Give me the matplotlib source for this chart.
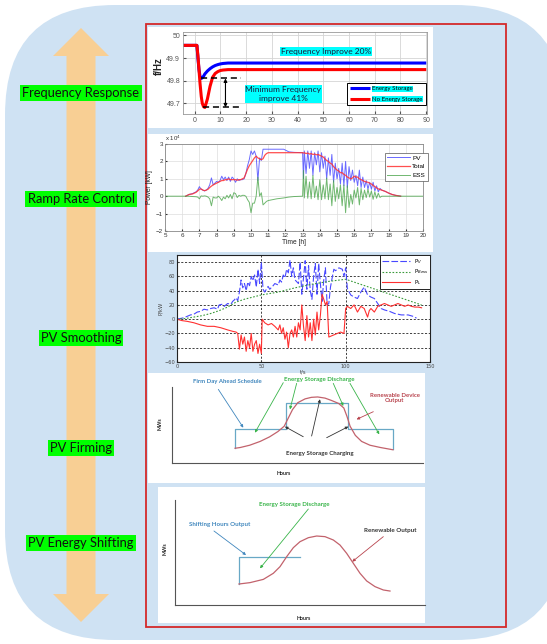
import numpy as np
import matplotlib
matplotlib.use('Agg')
import matplotlib.pyplot as plt
from matplotlib.patches import FancyBboxPatch, Rectangle, Polygon

# ---------------- data ----------------
# Panel 1: frequency response
t_freq = [-5, 0.9, 1.3, 1.7, 2.1, 2.6, 3.0, 3.5, 4.0, 5.0, 6.0, 7.0, 8.0, 9.0, 10, 11, 12, 13, 15, 20, 40, 60, 90]
f_storage = [49.956, 49.956, 49.90, 49.85, 49.82, 49.810, 49.813, 49.82, 49.83, 49.843, 49.853, 49.861, 49.867,
             49.871, 49.874, 49.876, 49.877, 49.878, 49.878, 49.878, 49.878, 49.878, 49.878]
f_no_storage = [49.956, 49.956, 49.91, 49.85, 49.79, 49.73, 49.70, 49.685, 49.682, 49.72, 49.775, 49.815, 49.832,
                49.840, 49.845, 49.847, 49.848, 49.849, 49.849, 49.849, 49.849, 49.849, 49.849]
freq_series = ['Energy Storage', 'No Energy Storage']
freq_yticks = [49.7, 49.8, 49.9, 50.0]
freq_yticklabels = ['49.7', '49.8', '49.9', '50']

# Panel 2: ramp rate control (values in 10^4 kW)
t_am = [6.2, 6.4, 6.6, 6.8, 6.9, 7.0, 7.1, 7.2, 7.3, 7.4, 7.5, 7.6, 7.7, 7.8, 7.9, 8.0, 8.1, 8.2, 8.3, 8.4,
        8.5, 8.6, 8.7, 8.8, 8.9, 9.0, 9.1, 9.2, 9.3, 9.4, 9.5]
pv_am = [0.00, 0.10, 0.15, 0.25, 0.35, 0.55, 0.40, 0.35, 0.30, 0.35, 0.45, 0.65, 1.05, 0.65, 0.75, 0.85, 0.80,
         0.90, 1.15, 0.95, 1.10, 0.90, 1.10, 0.85, 1.10, 1.00, 0.80, 1.00, 0.90, 0.95, 0.95]
tot_am = [0.00, 0.10, 0.13, 0.22, 0.30, 0.40, 0.42, 0.35, 0.32, 0.35, 0.40, 0.50, 0.58, 0.65, 0.70, 0.75, 0.80,
          0.85, 0.90, 0.90, 0.95, 0.95, 1.00, 0.95, 0.95, 0.95, 0.95, 0.92, 0.95, 0.95, 1.00]
ess_am = [0.00, 0.00, -0.02, -0.03, -0.05, -0.15, 0.02, 0.00, 0.02, 0.00, -0.05, -0.15, -0.55, -0.05, -0.10,
          -0.10, 0.00, -0.10, -0.25, -0.05, -0.15, 0.05, -0.10, 0.10, -0.15, 0.20, 0.15, -0.08, 0.05, 0.00, 0.05]

t_md = [9.6, 9.7, 9.8, 9.9, 10.0, 10.1, 10.2, 10.3, 10.4, 10.5, 10.6, 10.7, 10.8, 10.9, 11.0, 11.5, 11.9, 12.2, 12.5, 13.0]
pv_md = [1.00, 1.30, 1.75, 2.10, 2.60, 2.40, 2.60, 2.30, 0.90, 2.20, 2.05, 2.70, 2.70, 2.70, 2.70, 2.70, 2.70,
         2.55, 2.52, 2.50]
tot_md = [1.05, 1.30, 1.55, 1.75, 1.90, 2.05, 2.20, 2.30, 2.20, 2.15, 2.10, 2.15, 2.35, 2.45, 2.50, 2.50, 2.50,
          2.50, 2.50, 2.50]
ess_md = [0.05, 0.00, -0.20, -0.35, -0.95, -0.40, -0.40, 0.00, 1.10, 0.00, 0.20, -0.50, -0.40, -0.30, -0.25,
          -0.15, -0.10, -0.05, -0.02, 0.00]

t_pm = [13.05, 13.1, 13.2, 13.3, 13.4, 13.5, 13.6, 13.7, 13.8, 13.9,
        14.0, 14.1, 14.2, 14.3, 14.4, 14.5, 14.6, 14.7, 14.8, 14.9,
        15.0, 15.1, 15.2, 15.3, 15.4, 15.5, 15.6, 15.7, 15.8, 15.9,
        16.0, 16.1, 16.2, 16.3, 16.4, 16.5, 16.6, 16.7, 16.8, 16.9,
        17.0, 17.1, 17.2, 17.3, 17.4, 17.5, 17.6]
pv_pm = [1.00, 2.60, 1.30, 2.60, 1.60, 2.60, 1.20, 2.50, 1.80, 2.60,
         1.40, 2.50, 1.60, 2.30, 1.00, 2.20, 1.20, 2.40, 0.80, 1.90,
         1.00, 1.60, 0.70, 1.90, 0.60, 2.00, 0.50, 1.70, 0.90, 1.50,
         0.80, 1.20, 0.60, 1.50, 0.50, 1.10, 0.50, 0.90, 0.40, 0.80,
         0.40, 0.80, 0.30, 0.60, 0.25, 0.45, 0.35]
tot_pm = [2.48, 2.50, 2.45, 2.48, 2.42, 2.45, 2.40, 2.42, 2.38, 2.40,
          2.35, 2.30, 2.25, 2.15, 2.05, 2.00, 1.90, 1.85, 1.70, 1.60,
          1.50, 1.45, 1.35, 1.35, 1.25, 1.20, 1.10, 1.05, 1.00, 1.05,
          1.15, 1.10, 1.10, 1.00, 0.95, 0.90, 0.85, 0.82, 0.80, 0.75,
          0.70, 0.62, 0.55, 0.48, 0.42, 0.38, 0.35]
ess_pm = [1.48, -0.10, 1.15, -0.12, 0.82, -0.15, 1.20, -0.08, 0.58, -0.20,
          0.95, -0.20, 0.65, -0.15, 1.05, -0.20, 0.70, -0.55, 0.90, -0.30,
          0.50, -0.15, 0.65, -0.55, 0.65, -0.95, 0.60, -0.65, 0.10, -0.45,
          0.35, -0.10, 0.50, -0.50, 0.45, -0.20, 0.35, -0.08, 0.40, -0.05,
          0.30, -0.18, 0.25, -0.12, 0.17, -0.07, 0.00]

t_ev = [17.8, 18.0, 18.2, 18.4, 18.7]
pv_ev = [0.28, 0.18, 0.10, 0.05, 0.00]
tot_ev = [0.28, 0.18, 0.10, 0.05, 0.00]
ess_ev = [0.00, 0.00, 0.00, 0.00, 0.00]

t_day_start, t_day_end = 5.0, 20.0
ramp_series = ['PV', 'Total', 'ESS']

# Panel 3: PV smoothing
pv3_t = [0, 2, 4, 6, 8, 10, 12, 14, 16, 18,
         20, 22, 24, 25, 27, 28, 30, 32, 33, 34,
         35, 36, 37, 38, 39, 40, 41, 42, 43, 44,
         45, 46, 47, 48, 49, 50, 51, 52, 54, 55,
         57, 58, 60, 61, 62, 63, 64, 65, 66, 67,
         68, 69, 70, 72, 73, 74, 75, 76, 77, 78,
         79, 80, 81, 82, 83, 84, 85, 86, 87, 88,
         89, 90, 91, 92, 93, 94, 96, 98, 99, 100,
         101, 103, 105, 107, 109, 111, 113, 115, 117, 119,
         121, 123, 126, 129, 133, 137, 140, 142]
pv3_v = [0, 1, 2, 4, 6, 7, 10, 11, 14, 13,
         15, 16, 14, 20, 21, 18, 22, 21, 25, 27,
         30, 26, 38, 55, 44, 50, 40, 52, 47, 60,
         54, 62, 45, 70, 50, 80, 42, 38, 46, 42,
         47, 50, 48, 55, 52, 62, 58, 70, 65, 83,
         60, 72, 55, 50, 80, 35, 58, 82, 42, 75,
         40, 28, 60, 78, 35, 78, 50, 25, 55, 72,
         20, 22, 45, 58, 70, 68, 72, 70, 60, 72,
         43, 34, 31, 29, 38, 45, 34, 31, 29, 22,
         15, 13, 11, 8, 6, 6, 4, 1.5]
grid3_t = [0, 5, 10, 15, 20, 25, 30, 35, 40, 45, 50, 60, 70, 80, 90, 100, 110, 120, 130, 140, 145]
grid3_v = [0, 1, 3, 5, 8, 12, 17, 24, 28, 31, 34, 38, 44, 49, 53, 56, 48, 40, 32, 24, 20]
pl3_t = [0, 3, 6, 10, 14, 18, 22, 26, 30, 33,
         35, 36, 37, 38, 39, 40, 41, 42, 43, 44,
         45, 46, 47, 48, 49, 50, 50.5, 52, 54, 56,
         58, 60, 61, 62, 63, 64, 65, 66, 67, 68,
         69, 70, 71, 72, 73, 74, 75, 76, 77, 78,
         79, 80, 81, 82, 83, 84, 85, 86, 87, 88,
         89, 90, 91, 93, 95, 97, 99, 100, 101, 103,
         105, 107, 109, 111, 113, 114, 115, 117, 119, 121,
         123, 125, 127, 129, 131, 133, 135, 137, 139, 141,
         143, 145]
pl3_v = [0, -2, -3, -5, -8, -10, -10, -12, -15, -17,
         -18, -20, -42, -22, -35, -25, -45, -30, -40, -20,
         -45, -35, -30, -48, -35, -48, 0, -5, -8, -6,
         -10, -15, -8, -20, -12, -28, -18, -40, -20, -15,
         -25, -10, -25, -5, -15, 20, -10, -30, 5, -25,
         -5, -30, 0, -22, 10, -15, 5, 35, 28, 20,
         25, -25, -24, -22, -20, -18, -20, 15, 18, 15,
         20, 10, 18, 15, 3, 12, 15, 10, 18, 20,
         22, 20, 18, 20, 22, 20, 18, 20, 18, 17,
         17, 16]
smooth_labels = [r'P$_{V}$', r'P$_{Bess}$', r'P$_{L}$']

# Panel 4: PV firming schematic (hours, MW)
firm_sched_h = [6.0, 6.0, 10.9, 10.9, 16.8, 16.8, 21.1, 21.1]
firm_sched_mw = [1.9, 4.4, 4.4, 7.9, 7.9, 4.4, 4.4, 1.8]
firm_ren_h = [6.0, 6.5, 7.4, 8.4, 9.3, 10.1, 10.7, 11.1, 11.5, 12.0, 12.7, 13.3, 13.9, 14.6, 15.2, 15.9,
              16.4, 16.7, 17.0, 17.5, 18.1, 18.9, 19.9, 21.1]
firm_ren_mw = [1.9, 2.0, 2.3, 2.8, 3.4, 4.1, 4.8, 5.9, 7.0, 7.9, 8.4, 8.6, 8.65, 8.5, 8.2, 7.8,
               7.2, 6.1, 4.8, 3.6, 2.8, 2.3, 2.0, 1.7]
firm_blue_arrows = [((4.40, 9.65), (6.79, 4.61))]
firm_green_arrows = [((10.61, 10.53), (7.90, 3.95)), ((11.89, 10.44), (11.25, 7.02)),
                     ((15.39, 10.44), (16.35, 7.46)), ((16.99, 10.44), (19.79, 3.73))]
firm_red_arrows = [((19.22, 6.71), (17.62, 5.70))]
firm_black_arrows = [((12.52, 3.42), (10.77, 4.75)), ((13.32, 3.51), (14.12, 8.35)),
                     ((14.76, 3.29), (16.83, 4.75))]

# Panel 5: PV energy shifting schematic (hours, MW)
shift_out_h = [6.14, 6.14, 12.0]
shift_out_mw = [2.0, 4.6, 4.6]
shift_ren_h = [6.14, 7.2, 8.48, 9.44, 10.08, 10.72, 11.36, 12.0, 12.8, 13.6, 14.4, 15.2, 15.84, 16.48,
               17.12, 17.76, 18.4, 19.2, 20.0, 20.64]
shift_ren_mw = [2.0, 2.13, 2.44, 3.02, 3.65, 4.60, 5.46, 6.03, 6.41, 6.57, 6.51, 6.19, 5.71, 4.92,
                3.97, 3.02, 2.29, 1.75, 1.43, 1.33]
shift_blue_arrows = [((3.74, 7.05), (6.82, 4.76))]
shift_green_arrows = [((12.8, 9.14), (8.16, 3.49))]
shift_red_arrows = [((20.0, 6.51), (17.02, 4.13))]

left_labels = ['Frequency Response', 'Ramp Rate Control', 'PV Smoothing', 'PV Firming', 'PV Energy Shifting']

# ---------------- figure ----------------
W, H = 547, 644
fig = plt.figure(figsize=(W / 100, H / 100), dpi=100)
fig.patch.set_facecolor('white')

CAL = ['Lato', 'DejaVu Sans']
ARI = ['Liberation Sans', 'DejaVu Sans']


def frac(x0, y0, x1, y1):
    return [x0 / W, 1 - y1 / H, (x1 - x0) / W, (y1 - y0) / H]


bg = fig.add_axes([0, 0, 1, 1], zorder=0)
bg.set_xlim(0, W)
bg.set_ylim(H, 0)
bg.axis('off')

bg.add_patch(FancyBboxPatch((5, 5), 560, 635, boxstyle='round,pad=0,rounding_size=110',
                            fc='#cfe2f3', ec='none'))
# orange double arrow
cx = 81
arrow_pts = [(cx, 28), (cx + 28, 56), (cx + 14.5, 56), (cx + 14.5, 594), (cx + 28, 594), (cx, 622),
             (cx - 28, 594), (cx - 14.5, 594), (cx - 14.5, 56), (cx - 28, 56)]
bg.add_patch(Polygon(arrow_pts, closed=True, fc='#f8cf94', ec='none'))

label_y = [93, 199, 338, 448, 543]
for lab, yy in zip(left_labels, label_y):
    bg.text(cx, yy, lab, ha='center', va='center', fontsize=9.3, family=CAL, color='#111111',
            bbox=dict(facecolor='#00ff00', edgecolor='none', pad=1.6))

# white panels
for (x0, y0, x1, y1) in [(148, 27, 433, 128), (148, 134, 433, 252), (148, 373, 425, 483), (158, 487, 425, 623)]:
    bg.add_patch(Rectangle((x0, y0), x1 - x0, y1 - y0, fc='white', ec='none'))
# red frame
bg.add_patch(Rectangle((146, 24), 360, 603, fill=False, ec='#d42a2a', lw=1.3))

bg.text(159, 66, 'f/Hz', rotation=90, ha='center', va='center', fontsize=7, fontweight='bold',
        family=ARI, color='#222222')

# ---------------- panel 1 ----------------
ax1 = fig.add_axes(frac(183, 32, 427, 114))
ax1.plot(t_freq, f_storage, color='#0000ff', lw=2.2, label=freq_series[0], solid_capstyle='butt')
ax1.plot(t_freq, f_no_storage, color='#ff0000', lw=2.2, label=freq_series[1], solid_capstyle='butt')
ax1.set_xlim(-4.5, 90.3)
ax1.set_ylim(49.653, 50.015)
ax1.set_xticks(range(0, 91, 10))
ax1.set_yticks(freq_yticks)
ax1.set_yticklabels(freq_yticklabels)
ax1.tick_params(labelsize=5, colors='#555555', length=2, direction='in', pad=2)
for lab in ax1.get_xticklabels() + ax1.get_yticklabels():
    lab.set_family(ARI)
ax1.grid(True, color='#d5d5d5', lw=0.6)
for s in ax1.spines.values():
    s.set_color('#999999')
    s.set_linewidth(0.6)
min_es = min(f_storage)
min_no = min(f_no_storage)
t_min_es = t_freq[f_storage.index(min_es)]
t_min_no = 3.2
t_dash_end = 18
ax1.plot([t_min_es, t_dash_end], [min_es, min_es], ls=(0, (4, 2.5)), color='k', lw=1.1)
ax1.plot([t_min_no, t_dash_end], [min_no, min_no], ls=(0, (4, 2.5)), color='k', lw=1.1)
ax1.annotate('', xy=(12, min_no), xytext=(12, min_es),
             arrowprops=dict(arrowstyle='<|-|>', color='k', lw=0.8, mutation_scale=5, shrinkA=0, shrinkB=0))
ax1.text(51, 49.93, 'Frequency Improve 20%', ha='center', va='center', fontsize=6, family=CAL,
         color='#1a1a3a', bbox=dict(facecolor='#00ffff', edgecolor='none', pad=0.6))
ax1.text(34.5, 49.741, 'Minimum Frequency\nimprove 41%', ha='center', va='center', fontsize=6,
         family=CAL, color='#1a1a3a', linespacing=1.35, multialignment='center',
         bbox=dict(facecolor='#00ffff', edgecolor='none', pad=0.6))
leg1 = ax1.legend(loc='lower right', bbox_to_anchor=(0.995, 0.11), prop=dict(family=CAL, size=4.4),
                  frameon=True, fancybox=False, edgecolor='k', framealpha=1, handlelength=3.2,
                  borderpad=0.5, labelspacing=0.9, handletextpad=0.4, borderaxespad=0)
leg1.get_frame().set_linewidth(0.7)
for txt in leg1.get_texts():
    txt.set_bbox(dict(facecolor='#00ffff', edgecolor='none', pad=0.3))

# ---------------- panel 2 ----------------
ax2 = fig.add_axes(frac(165, 144, 423, 231))
nan = np.nan
t_all = [t_day_start] + t_am + t_md + t_pm + t_ev + [t_day_end]
pv_all = [nan] + pv_am + pv_md + pv_pm + pv_ev + [nan]
tot_all = [nan] + tot_am + tot_md + tot_pm + tot_ev + [nan]
ess_all = [0.0] + ess_am + ess_md + ess_pm + ess_ev + [0.0]
ax2.plot(t_all, pv_all, color='#5050ff', lw=0.7, alpha=0.85, label=ramp_series[0])
ax2.plot(t_all, tot_all, color='#ff3030', lw=0.9, alpha=0.85, label=ramp_series[1])
ax2.plot(t_all, ess_all, color='#40a040', lw=0.7, alpha=0.75, label=ramp_series[2])
ax2.set_xlim(5, 20)
ax2.set_ylim(-2, 3)
ax2.set_xticks(range(5, 21))
ax2.set_yticks(range(-2, 4))
ax2.tick_params(labelsize=4.5, colors='#333333', length=1.5, direction='in', pad=1.5)
for lab in ax2.get_xticklabels() + ax2.get_yticklabels():
    lab.set_family(ARI)
ax2.grid(True, color='#dddddd', lw=0.5)
for s in ax2.spines.values():
    s.set_color('#888888')
    s.set_linewidth(0.6)
ax2.text(0.0, 1.01, r'x 10$^4$', transform=ax2.transAxes, fontsize=4.3, family=ARI, color='#333333',
         va='bottom', ha='left')
ax2.set_xlabel('Time [h]', fontsize=4.8, family=ARI, labelpad=1, color='#222222')
ax2.set_ylabel('Power [kW]', fontsize=4.8, family=ARI, labelpad=2, color='#222222')
leg2 = ax2.legend(loc='upper right', bbox_to_anchor=(1.02, 0.9), prop=dict(family=ARI, size=4.6),
                  frameon=True, fancybox=False, edgecolor='#555555', framealpha=1, handlelength=3.5,
                  borderpad=0.4, labelspacing=0.5, handletextpad=0.4, borderaxespad=0)
leg2.get_frame().set_linewidth(0.5)

# ---------------- panel 3 ----------------
ax3 = fig.add_axes(frac(177, 255, 430, 362))
ax3.plot(pv3_t, pv3_v, color='#4848ff', lw=0.8, ls=(0, (6, 2)), label=smooth_labels[0])
ax3.plot(grid3_t, grid3_v, color='#3a9a3a', lw=0.8, ls=(0, (1.5, 1.5)), label=smooth_labels[1])
ax3.plot(pl3_t, pl3_v, color='#ff3030', lw=0.8, label=smooth_labels[2])
ax3.set_xlim(0, 150)
ax3.set_ylim(-60, 90)
ax3.set_xticks([0, 50, 100, 150])
ax3.set_yticks(range(-60, 81, 20))
ax3.grid(True, color='#222222', lw=0.6, ls=(0, (2.5, 2)))
ax3.tick_params(labelsize=3.6, colors='#444444', length=1.5, direction='in', pad=1.5)
for s in ax3.spines.values():
    s.set_color('#222222')
    s.set_linewidth(0.8)
ax3.set_xlabel('t/s', fontsize=3.8, labelpad=0.5, color='#444444')
ax3.set_ylabel('P/kW', fontsize=3.8, labelpad=1, color='#444444')
leg3 = ax3.legend(loc='upper right', prop=dict(size=4), frameon=True, fancybox=False, edgecolor='#222222',
                  framealpha=1, handlelength=5, borderpad=0.3, labelspacing=0.35, handletextpad=0.8,
                  borderaxespad=0)
leg3.get_frame().set_linewidth(0.7)


# ---------------- schematics ----------------
def schematic_axes(rect):
    ax = fig.add_axes(rect)
    ax.set_xlim(0, 24)
    ax.set_ylim(0, 10)
    ax.patch.set_alpha(0)
    for k in ['top', 'right']:
        ax.spines[k].set_visible(False)
    for k in ['left', 'bottom']:
        ax.spines[k].set_color('#555555')
        ax.spines[k].set_linewidth(0.8)
    ax.set_xticks([])
    ax.set_yticks([])
    return ax


def arrows(ax, lst, color):
    for tail, head in lst:
        ax.annotate('', xy=head, xytext=tail, annotation_clip=False,
                    arrowprops=dict(arrowstyle='-|>', color=color, lw=0.6, mutation_scale=4,
                                    shrinkA=0, shrinkB=0))


BLUE_T = '#3f86bd'
GREEN_T = '#38b449'
RED_T = '#b8434d'
LINE_B = '#68a8c6'
LINE_R = '#c2626c'

ax4 = schematic_axes(frac(172.3, 386.7, 423.3, 462.7))
ax4.plot(firm_sched_h, firm_sched_mw, color=LINE_B, lw=0.9)
ax4.plot(firm_ren_h, firm_ren_mw, color=LINE_R, lw=0.9)
arrows(ax4, firm_blue_arrows, BLUE_T)
arrows(ax4, firm_green_arrows, GREEN_T)
arrows(ax4, firm_red_arrows, RED_T)
arrows(ax4, firm_black_arrows, '#333333')
tk = dict(family=CAL, fontweight='bold', ha='center', va='center', clip_on=False)
ax4.text(5.26, 10.66, 'Firm Day Ahead Schedule', fontsize=4.3, color=BLUE_T, **tk)
ax4.text(14.05, 11.0, 'Energy Storage Discharge', fontsize=4.4, color=GREEN_T, **tk)
ax4.text(21.29, 8.55, 'Renewable Device\nOutput', fontsize=4.3, color=RED_T, linespacing=1.0, **tk)
ax4.text(14.12, 1.23, 'Energy Storage Charging', fontsize=4.4, color='#333333', **tk)
ax4.text(-1.18, 5.18, 'MWs', fontsize=3.8, color='#222222', rotation=90, **tk)
ax4.text(10.61, -1.45, 'Hours', fontsize=3.8, color='#222222', **tk)

ax5 = schematic_axes(frac(175, 500, 425, 605))
ax5.plot(shift_out_h, shift_out_mw, color=LINE_B, lw=0.9)
ax5.plot(shift_ren_h, shift_ren_mw, color=LINE_R, lw=0.9)
arrows(ax5, shift_blue_arrows, BLUE_T)
arrows(ax5, shift_green_arrows, GREEN_T)
arrows(ax5, shift_red_arrows, RED_T)
ax5.text(4.32, 7.62, 'Shifting Hours Output', fontsize=4.4, color=BLUE_T, **tk)
ax5.text(11.42, 9.59, 'Energy Storage Discharge', fontsize=4.4, color=GREEN_T, **tk)
ax5.text(20.64, 7.05, 'Renewable Output', fontsize=4.5, color='#333333', **tk)
ax5.text(-0.96, 5.4, 'MWs', fontsize=3.8, color='#222222', rotation=90, **tk)
ax5.text(12.32, -1.27, 'Hours', fontsize=3.8, color='#222222', **tk)

fig.savefig('out.png', dpi=100, facecolor='white')
